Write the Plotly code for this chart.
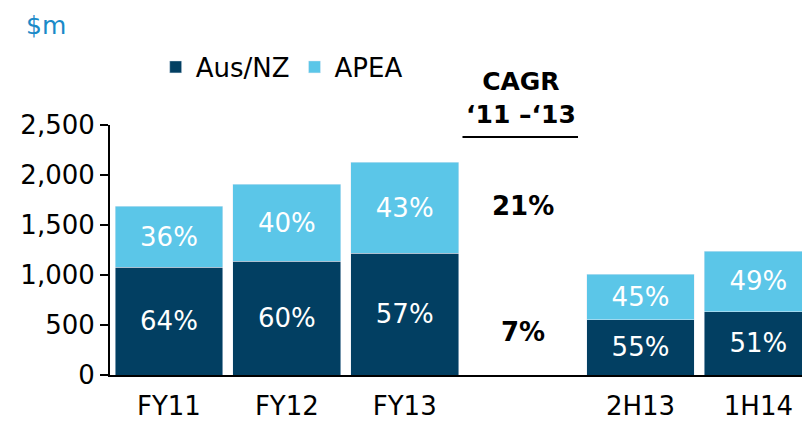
import plotly.graph_objects as go

# Revenue by region, $m
periods = ["FY11", "FY12", "FY13", "2H13", "1H14"]
x_pos = [0, 1, 2, 4, 5]  # slot 3 is left open for the CAGR column
aus_nz = [1080, 1140, 1220, 555, 635]
apea = [610, 770, 910, 455, 605]
cagr_apea = "21%"
cagr_aus_nz = "7%"
y_ticks = [0, 500, 1000, 1500, 2000, 2500]

DARK = "#023F62"
LIGHT = "#5BC6E8"
FONT = "DejaVu Sans, Verdana, sans-serif"

totals = [a + b for a, b in zip(aus_nz, apea)]
aus_pct = [f"{round(100 * a / t)}%" for a, t in zip(aus_nz, totals)]
apea_pct = [f"{round(100 * b / t)}%" for b, t in zip(apea, totals)]

fig = go.Figure()
fig.add_trace(go.Bar(
    x=x_pos, y=aus_nz, name="Aus/NZ", marker_color=DARK,
    text=aus_pct, textposition="inside", insidetextanchor="middle",
    textfont=dict(color="white", size=26, family=FONT),
))
fig.add_trace(go.Bar(
    x=x_pos, y=apea, name="APEA", marker_color=LIGHT,
    text=apea_pct, textposition="inside", insidetextanchor="middle",
    textfont=dict(color="white", size=26, family=FONT),
))

fig.update_layout(
    barmode="stack",
    bargap=0.085,
    width=802, height=421,
    margin=dict(l=110, r=0, t=125, b=46),
    paper_bgcolor="white", plot_bgcolor="white",
    font=dict(family=FONT, size=26, color="black"),
    uniformtext=dict(mode="show", minsize=26),
    showlegend=True,
    legend=dict(
        orientation="h", x=0.066, y=1.232, xanchor="left", yanchor="middle",
        font=dict(size=26, family=FONT), itemwidth=30, bgcolor="rgba(0,0,0,0)",
        traceorder="normal",
    ),
    xaxis=dict(
        range=[-0.5, 5.37], tickvals=x_pos, ticktext=periods,
        showline=True, linecolor="black", linewidth=2,
        ticks="", showgrid=False, zeroline=False, automargin=False,
        tickfont=dict(size=26), ticklabelstandoff=7,
    ),
    yaxis=dict(
        range=[0, 2500], tickvals=y_ticks, tickformat=",",
        showline=True, linecolor="black", linewidth=2,
        ticks="outside", ticklen=8, tickwidth=2, tickcolor="black",
        showgrid=False, zeroline=False, automargin=False,
        tickfont=dict(size=26),
    ),
)

# Axis unit
fig.add_annotation(text="$m", xref="paper", yref="paper", x=-0.092, y=1.4,
                   xanchor="center", yanchor="middle", showarrow=False,
                   font=dict(size=25, color="#1A8AC8", family=FONT))

# CAGR column header and values
fig.add_annotation(text="<b>CAGR<br>‘11 –‘13</b>", xref="x", yref="paper",
                   x=2.99, y=1.108, xanchor="center", yanchor="middle",
                   showarrow=False, font=dict(size=25, family=FONT))
fig.add_shape(type="line", xref="x", yref="paper", x0=2.49, x1=3.47,
              y0=0.952, y1=0.952, line=dict(color="black", width=2))
fig.add_annotation(text=f"<b>{cagr_apea}</b>", x=3, y=1690, showarrow=False,
                   xanchor="center", yanchor="middle", font=dict(size=26, family=FONT))
fig.add_annotation(text=f"<b>{cagr_aus_nz}</b>", x=3, y=430, showarrow=False,
                   xanchor="center", yanchor="middle", font=dict(size=26, family=FONT))

fig.write_html("out.html")
